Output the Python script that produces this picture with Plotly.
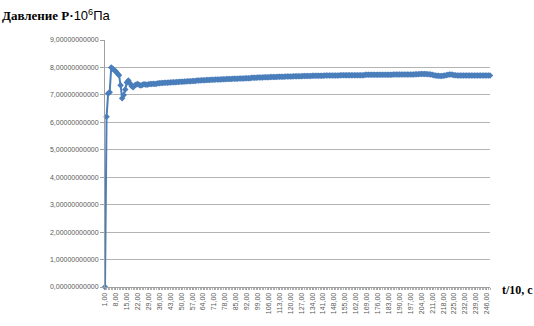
import plotly.graph_objects as go

# time categories (t/10, c)
categories = list(range(1, 249))

# pressure values P·10^6 Pa
pressure = [
    0.00, 6.20, 7.05, 7.10, 8.00, 7.95, 7.90, 7.85, 7.78, 7.72,
    7.35, 6.88, 7.00, 7.20, 7.45, 7.52, 7.42, 7.32, 7.28, 7.34,
    7.38, 7.40, 7.36, 7.34, 7.37, 7.39, 7.38, 7.37, 7.39, 7.40,
    7.40, 7.41, 7.40, 7.41, 7.42, 7.42, 7.43, 7.43, 7.44, 7.44,
    7.44, 7.45, 7.45, 7.46, 7.46, 7.46, 7.47, 7.47, 7.48, 7.48,
    7.48, 7.49, 7.49, 7.50, 7.50, 7.50, 7.51, 7.51, 7.51, 7.52,
    7.52, 7.52, 7.53, 7.53, 7.53, 7.54, 7.54, 7.54, 7.55, 7.55,
    7.55, 7.56, 7.56, 7.56, 7.56, 7.57, 7.57, 7.57, 7.58, 7.58,
    7.58, 7.58, 7.59, 7.59, 7.59, 7.59, 7.60, 7.60, 7.60, 7.60,
    7.61, 7.61, 7.61, 7.61, 7.62, 7.62, 7.62, 7.62, 7.63, 7.63,
    7.63, 7.63, 7.64, 7.64, 7.64, 7.64, 7.65, 7.65, 7.65, 7.65,
    7.65, 7.66, 7.66, 7.66, 7.66, 7.66, 7.67, 7.67, 7.67, 7.67,
    7.67, 7.68, 7.68, 7.68, 7.68, 7.68, 7.68, 7.69, 7.69, 7.69,
    7.69, 7.69, 7.69, 7.70, 7.70, 7.70, 7.70, 7.70, 7.70, 7.70,
    7.70, 7.71, 7.71, 7.71, 7.71, 7.71, 7.71, 7.71, 7.71, 7.71,
    7.71, 7.72, 7.72, 7.72, 7.72, 7.72, 7.72, 7.72, 7.72, 7.72,
    7.72, 7.72, 7.72, 7.72, 7.72, 7.72, 7.72, 7.73, 7.73, 7.73,
    7.73, 7.73, 7.73, 7.73, 7.73, 7.73, 7.73, 7.73, 7.73, 7.73,
    7.73, 7.73, 7.73, 7.73, 7.73, 7.74, 7.74, 7.74, 7.74, 7.74,
    7.74, 7.74, 7.74, 7.74, 7.74, 7.74, 7.74, 7.74, 7.74, 7.75,
    7.75, 7.75, 7.76, 7.76, 7.76, 7.76, 7.76, 7.75, 7.75, 7.74,
    7.73, 7.72, 7.71, 7.70, 7.70, 7.69, 7.69, 7.70, 7.71, 7.72,
    7.73, 7.74, 7.74, 7.73, 7.72, 7.72, 7.71, 7.71, 7.71, 7.71,
    7.71, 7.71, 7.71, 7.71, 7.71, 7.71, 7.71, 7.71, 7.71, 7.71,
    7.71, 7.71, 7.71, 7.71, 7.71, 7.71, 7.71, 7.71,
]

# x tick labels (every 7th category)
tick_vals = categories[::7]
tick_text = [f"{c},00" for c in tick_vals]

# y ticks
y_ticks = [0, 1, 2, 3, 4, 5, 6, 7, 8, 9]

color = "#4a7ebb"

fig = go.Figure()
fig.add_trace(go.Scatter(
    x=categories, y=pressure, mode="lines+markers",
    line=dict(color=color, width=2),
    marker=dict(symbol="diamond", size=5, color=color),
    showlegend=False, cliponaxis=False,
))

fig.update_layout(
    width=534, height=326,
    margin=dict(l=105, r=44, t=40, b=28),
    paper_bgcolor="white", plot_bgcolor="white",
    separators=", ",
    font=dict(family="Liberation Sans, Arial", color="#595959"),
    xaxis=dict(
        range=[1, 248], tickvals=tick_vals, ticktext=tick_text,
        tickangle=-90, tickfont=dict(size=7, color="#595959"),
        showgrid=False, zeroline=False,
        showline=True, linecolor="#a0a0a0", linewidth=1,
        ticks="outside", ticklen=2, tickcolor="#a0a0a0",
        minor=dict(dtick=1, ticks="outside", ticklen=2, tickcolor="#b0b0b0"),
    ),
    yaxis=dict(
        range=[0, 9], tickvals=y_ticks, tickformat=".11f",
        tickfont=dict(size=7, color="#595959"),
        showgrid=True, gridcolor="#b4b4b4", gridwidth=1,
        zeroline=False, showline=True, linecolor="#a0a0a0",
        ticks="outside", ticklen=4, tickcolor="#a0a0a0",
    ),
    annotations=[
        dict(
            text=("<b><span style='font-family:Liberation Serif'>Давление P·</span></b>"
                  "10<sup>6</sup>Па"),
            xref="paper", yref="paper", x=-105/385, y=1 + 26/258,
            xanchor="left", yanchor="middle", showarrow=False,
            font=dict(size=13, color="black", family="Liberation Sans, Arial"),
        ),
        dict(
            text="<b>t/10, с</b>",
            xref="paper", yref="paper", x=1 + 10/385, y=-3/258,
            xanchor="left", yanchor="middle", showarrow=False,
            font=dict(size=12, color="black", family="Liberation Serif, Times New Roman"),
        ),
    ],
)

fig.write_html("out.html")
